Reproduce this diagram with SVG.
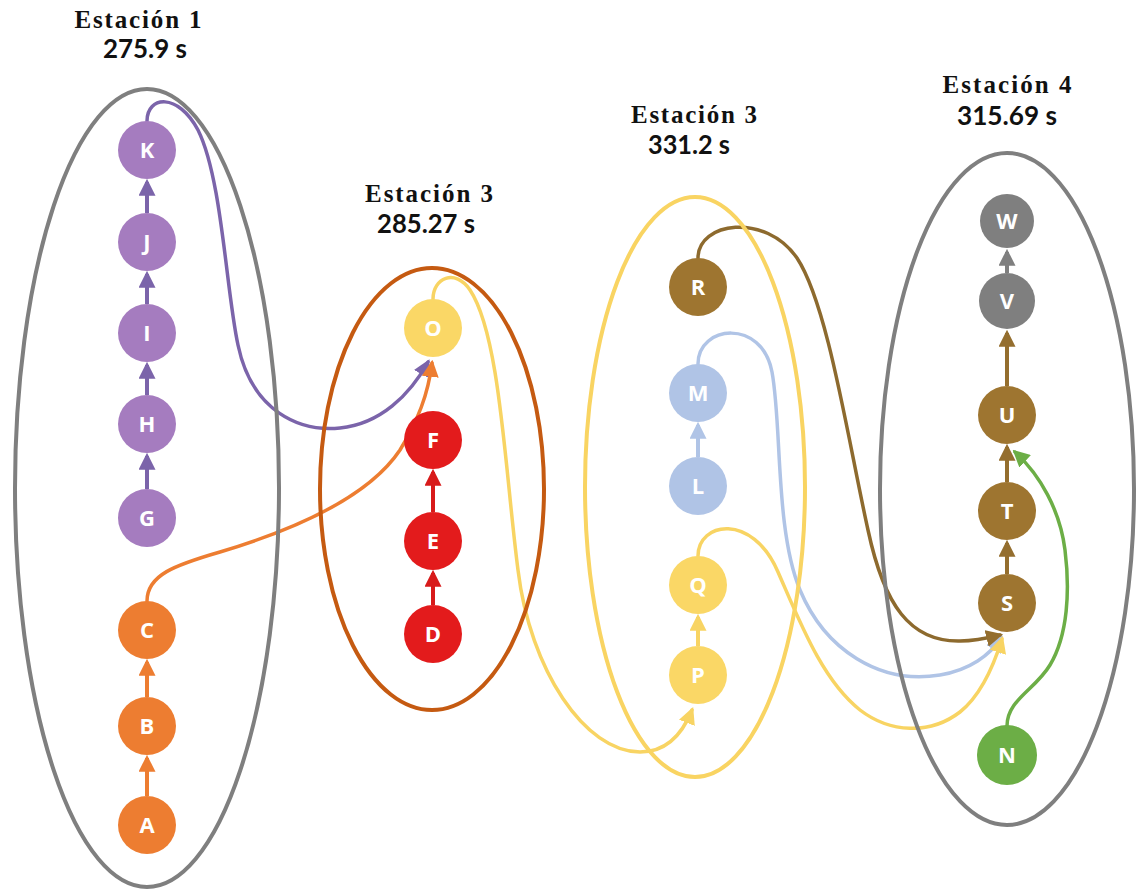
<svg xmlns="http://www.w3.org/2000/svg" width="1136" height="890" viewBox="0 0 1136 890">
  <defs>
    <style>
      .bg { fill: #ffffff; }
      .title { font-family: "Liberation Serif", "Times New Roman", serif; font-weight: bold; font-size: 25px; fill: #111111; text-anchor: middle; }
      .time { font-family: Lato, "Liberation Sans", sans-serif; font-weight: 700; font-size: 26px; fill: #111111; text-anchor: middle; }
      .station { fill: none; stroke-width: 4; }
      .node text { font-family: "Open Sans", "Liberation Sans", sans-serif; font-weight: 700; font-size: 22px; fill: #ffffff; text-anchor: middle; }
      .link { fill: none; stroke-width: 3.5; stroke-linecap: round; }
      .stem { fill: none; stroke-width: 4; }
      .purple { fill: #a57cbf; }
      .orange { fill: #ed7d31; }
      .red { fill: #e31b1c; }
      .yellow { fill: #fad766; }
      .brown { fill: #9e7530; }
      .blue { fill: #b0c4e6; }
      .gray { fill: #7f7f7f; }
      .green { fill: #6cae46; }
    </style>
    <marker id="arPurple" markerUnits="userSpaceOnUse" viewBox="0 0 16 16" markerWidth="17" markerHeight="17" refX="13" refY="8" orient="auto"><path d="M0,0 L16,8 L0,16 z" fill="#7b64aa"/></marker>
    <marker id="arOrange" markerUnits="userSpaceOnUse" viewBox="0 0 16 16" markerWidth="17" markerHeight="17" refX="13" refY="8" orient="auto"><path d="M0,0 L16,8 L0,16 z" fill="#ed7d31"/></marker>
    <marker id="arRed" markerUnits="userSpaceOnUse" viewBox="0 0 16 16" markerWidth="17" markerHeight="17" refX="13" refY="8" orient="auto"><path d="M0,0 L16,8 L0,16 z" fill="#d81a1a"/></marker>
    <marker id="arYellow" markerUnits="userSpaceOnUse" viewBox="0 0 16 16" markerWidth="17" markerHeight="17" refX="13" refY="8" orient="auto"><path d="M0,0 L16,8 L0,16 z" fill="#f8d463"/></marker>
    <marker id="arBrown" markerUnits="userSpaceOnUse" viewBox="0 0 16 16" markerWidth="17" markerHeight="17" refX="13" refY="8" orient="auto"><path d="M0,0 L16,8 L0,16 z" fill="#946e2e"/></marker>
    <marker id="arBlue" markerUnits="userSpaceOnUse" viewBox="0 0 16 16" markerWidth="17" markerHeight="17" refX="13" refY="8" orient="auto"><path d="M0,0 L16,8 L0,16 z" fill="#b0c4e6"/></marker>
    <marker id="arGray" markerUnits="userSpaceOnUse" viewBox="0 0 16 16" markerWidth="17" markerHeight="17" refX="13" refY="8" orient="auto"><path d="M0,0 L16,8 L0,16 z" fill="#7f7f7f"/></marker>
    <marker id="arGreen" markerUnits="userSpaceOnUse" viewBox="0 0 16 16" markerWidth="17" markerHeight="17" refX="13" refY="8" orient="auto"><path d="M0,0 L16,8 L0,16 z" fill="#6cae46"/></marker>
  </defs>

  <rect class="bg" x="0" y="0" width="1136" height="890"/>

  <!-- precedence links -->
  <g id="connectors">
    <!-- long curved links between stations -->
    <path class="link" stroke="#7b64aa" marker-end="url(#arPurple)" d="M147 121 C147 96 178 92 198 130 C222 178 226 290 238 345 C252 412 300 432 340 428 C380 424 410 395 428 362"/>
    <path class="link" stroke="#ed7d31" marker-end="url(#arOrange)" d="M147 601 C147 575 175 565 220 552 C300 528 370 495 400 450 C418 420 428 395 432 363"/>
    <path class="link" stroke="#f8d463" marker-end="url(#arYellow)" d="M433 299 C433 278 455 268 470 290 C500 335 505 470 518 570 C530 670 585 752 640 752 C665 752 682 735 692 710"/>
    <path class="link" stroke="#b0c4e6" marker-end="url(#arBlue)" d="M698 364 C698 325 762 318 772 372 C782 425 775 530 800 590 C825 650 880 685 940 675 C970 670 990 655 1001 638"/>
    <path class="link" stroke="#f8d463" marker-end="url(#arYellow)" d="M698 556 C698 522 752 512 778 572 C800 622 822 680 860 710 C890 733 930 735 960 712 C980 696 993 668 1002 639"/>
    <path class="link" stroke="#8d6a2e" marker-end="url(#arBrown)" d="M698 258 C698 222 765 212 797 258 C828 305 848 440 868 530 C884 605 910 642 960 641 C975 641 988 638 1000 635"/>
    <path class="link" stroke="#6cae46" marker-end="url(#arGreen)" d="M1007 726 C1007 700 1035 690 1050 665 C1068 635 1070 590 1065 550 C1060 510 1040 475 1015 452"/>

    <!-- short links within a column -->
    <line class="stem" stroke="#ed7d31" marker-end="url(#arOrange)" x1="147" y1="796" x2="147" y2="758"/>
    <line class="stem" stroke="#ed7d31" marker-end="url(#arOrange)" x1="147" y1="697" x2="147" y2="662"/>
    <line class="stem" stroke="#7b64aa" marker-end="url(#arPurple)" x1="147" y1="489" x2="147" y2="456"/>
    <line class="stem" stroke="#7b64aa" marker-end="url(#arPurple)" x1="147" y1="395" x2="147" y2="365"/>
    <line class="stem" stroke="#7b64aa" marker-end="url(#arPurple)" x1="147" y1="304" x2="147" y2="274"/>
    <line class="stem" stroke="#7b64aa" marker-end="url(#arPurple)" x1="147" y1="213" x2="147" y2="182"/>
    <line class="stem" stroke="#d81a1a" marker-end="url(#arRed)" x1="433" y1="605" x2="433" y2="573"/>
    <line class="stem" stroke="#d81a1a" marker-end="url(#arRed)" x1="433" y1="512" x2="433" y2="472"/>
    <line class="stem" stroke="#f8d463" marker-end="url(#arYellow)" x1="698" y1="646" x2="698" y2="617"/>
    <line class="stem" stroke="#b0c4e6" marker-end="url(#arBlue)" x1="698" y1="457" x2="698" y2="425"/>
    <line class="stem" stroke="#946e2e" marker-end="url(#arBrown)" x1="1007" y1="574" x2="1007" y2="543"/>
    <line class="stem" stroke="#946e2e" marker-end="url(#arBrown)" x1="1007" y1="482" x2="1007" y2="447"/>
    <line class="stem" stroke="#946e2e" marker-end="url(#arBrown)" x1="1007" y1="386" x2="1007" y2="333"/>
    <line class="stem" stroke="#7f7f7f" marker-end="url(#arGray)" x1="1007" y1="273" x2="1007" y2="252"/>
  </g>

  <!-- station outlines and headings -->
  <g id="stations">
    <ellipse class="station" stroke="#7f7f7f" cx="147" cy="488" rx="132" ry="399"/>
    <ellipse class="station" stroke="#c55a11" cx="432" cy="489" rx="112" ry="221"/>
    <ellipse class="station" stroke="#f9d462" cx="695" cy="487" rx="110" ry="290"/>
    <ellipse class="station" stroke="#7f7f7f" cx="1007" cy="489" rx="127" ry="336"/>

    <text class="title" x="138" y="28" textLength="127" lengthAdjust="spacing">Estación 1</text>
    <text class="time" x="145" y="58" textLength="84" lengthAdjust="spacingAndGlyphs">275.9 s</text>
    <text class="title" x="429" y="202" textLength="128" lengthAdjust="spacing">Estación 3</text>
    <text class="time" x="426" y="233" textLength="98" lengthAdjust="spacingAndGlyphs">285.27 s</text>
    <text class="title" x="694" y="123" textLength="126" lengthAdjust="spacing">Estación 3</text>
    <text class="time" x="689" y="154" textLength="82" lengthAdjust="spacingAndGlyphs">331.2 s</text>
    <text class="title" x="1007" y="93" textLength="129" lengthAdjust="spacing">Estación 4</text>
    <text class="time" x="1007" y="125" textLength="100" lengthAdjust="spacingAndGlyphs">315.69 s</text>
  </g>

  <!-- tasks -->
  <g id="node-K" class="node"><circle class="purple" cx="147" cy="150" r="29"/><text x="147" y="158">K</text></g>
  <g id="node-J" class="node"><circle class="purple" cx="147" cy="242" r="29"/><text x="147" y="250">J</text></g>
  <g id="node-I" class="node"><circle class="purple" cx="147" cy="333" r="29"/><text x="147" y="341">I</text></g>
  <g id="node-H" class="node"><circle class="purple" cx="147" cy="424" r="29"/><text x="147" y="432">H</text></g>
  <g id="node-G" class="node"><circle class="purple" cx="147" cy="518" r="29"/><text x="147" y="526">G</text></g>
  <g id="node-C" class="node"><circle class="orange" cx="147" cy="630" r="29"/><text x="147" y="638">C</text></g>
  <g id="node-B" class="node"><circle class="orange" cx="147" cy="726" r="29"/><text x="147" y="734">B</text></g>
  <g id="node-A" class="node"><circle class="orange" cx="147" cy="825" r="29"/><text x="147" y="833">A</text></g>

  <g id="node-O" class="node"><circle class="yellow" cx="433" cy="328" r="29"/><text x="433" y="336">O</text></g>
  <g id="node-F" class="node"><circle class="red" cx="433" cy="440" r="29"/><text x="433" y="448">F</text></g>
  <g id="node-E" class="node"><circle class="red" cx="433" cy="541" r="29"/><text x="433" y="549">E</text></g>
  <g id="node-D" class="node"><circle class="red" cx="433" cy="634" r="29"/><text x="433" y="642">D</text></g>

  <g id="node-R" class="node"><circle class="brown" cx="698" cy="287" r="29"/><text x="698" y="295">R</text></g>
  <g id="node-M" class="node"><circle class="blue" cx="698" cy="393" r="29"/><text x="698" y="401">M</text></g>
  <g id="node-L" class="node"><circle class="blue" cx="698" cy="486" r="29"/><text x="698" y="494">L</text></g>
  <g id="node-Q" class="node"><circle class="yellow" cx="698" cy="585" r="29"/><text x="698" y="593">Q</text></g>
  <g id="node-P" class="node"><circle class="yellow" cx="698" cy="675" r="29"/><text x="698" y="683">P</text></g>

  <g id="node-W" class="node"><circle class="gray" cx="1007" cy="221" r="27"/><text x="1007" y="229">W</text></g>
  <g id="node-V" class="node"><circle class="gray" cx="1007" cy="301" r="28"/><text x="1007" y="309">V</text></g>
  <g id="node-U" class="node"><circle class="brown" cx="1007" cy="415" r="29"/><text x="1007" y="423">U</text></g>
  <g id="node-T" class="node"><circle class="brown" cx="1007" cy="511" r="29"/><text x="1007" y="519">T</text></g>
  <g id="node-S" class="node"><circle class="brown" cx="1007" cy="603" r="29"/><text x="1007" y="611">S</text></g>
  <g id="node-N" class="node"><circle class="green" cx="1007" cy="755" r="30"/><text x="1007" y="763">N</text></g>
</svg>
